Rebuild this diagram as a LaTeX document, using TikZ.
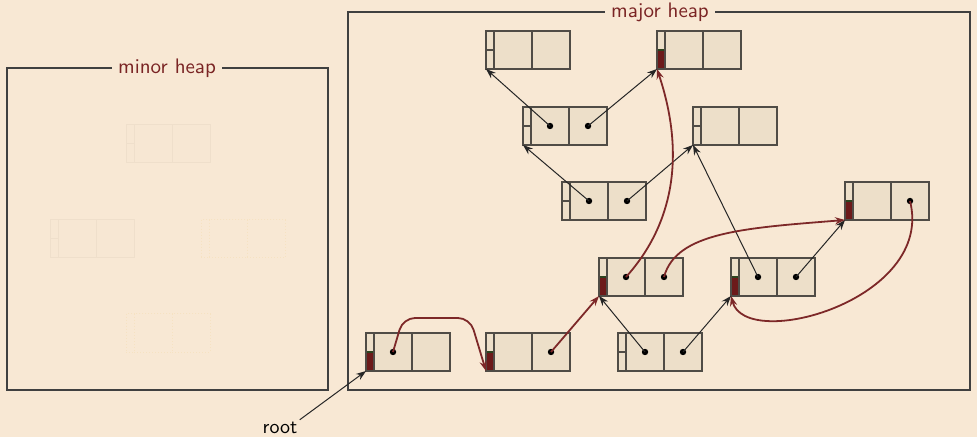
\documentclass[tikz,border=0pt]{standalone}
\usetikzlibrary{positioning,arrows.meta}
\definecolor{bg}{RGB}{248,232,212}
\definecolor{blkfill}{RGB}{237,223,201}
\definecolor{blkline}{RGB}{80,76,70}
\definecolor{markred}{RGB}{108,26,26}
\definecolor{markedge}{RGB}{46,66,30}
\definecolor{livered}{RGB}{125,40,40}
\definecolor{heapred}{RGB}{122,36,36}
\definecolor{ghostline}{RGB}{239,223,203}
\definecolor{ghostfill}{RGB}{247,231,211}
\definecolor{ghostyel}{RGB}{246,226,194}
\tikzset{
  hdr/.style={draw=blkline, fill=blkfill, line width=0.6pt, anchor=north west,
    minimum width=4pt, minimum height=19pt, inner sep=0pt, outer sep=0pt},
  fld/.style={draw=blkline, fill=blkfill, line width=0.6pt,
    minimum width=19pt, minimum height=19pt, inner sep=0pt, outer sep=0pt},
  free/.style={path picture={\draw[blkline, line width=0.6pt]
    (path picture bounding box.west) -- (path picture bounding box.east);}},
  marked/.style={path picture={\filldraw[draw=markedge, fill=markred, line width=0.9pt]
    (path picture bounding box.south west) rectangle (path picture bounding box.east);}},
  ghost/.style={draw=ghostline, fill=ghostfill, line width=0.5pt},
  ghostdot/.style={draw=ghostyel, fill=bg, line width=0.5pt, densely dotted},
  ptr/.style={-{Stealth[length=5pt,width=3.6pt]}, line width=0.5pt, draw=black!85},
  live/.style={ptr, draw=livered, line width=0.9pt},
  heap/.style={draw=black!75, line width=0.6pt},
  heaplbl/.style={fill=bg, text=heapred, inner sep=3pt, font=\sffamily\fontsize{10.5}{12}\selectfont},
}
\begin{document}
\begin{tikzpicture}[x=0.5pt, y=-0.5pt]
  \fill[bg] (0,0) rectangle (977,437);
  \useasboundingbox (0,0) rectangle (977,437);
  % heaps
  \draw[heap] (7,68) rectangle (328,390);
  \node[heaplbl] (minor) at (167,68) {minor heap};
  \draw[heap] (348,12) rectangle (970,390);
  \node[heaplbl] (major) at (660,12) {major heap};
  % faint blocks in the minor heap
  \foreach \n/\x/\y/\s in {g1/126/125/ghost, g2/50/220/ghost, g3/201/220/ghostdot, g4/126/314/ghostdot}{
    \node[hdr, \s] (\n-h) at (\x,\y) {};
    \node[fld, \s, right=0pt of \n-h] (\n-a) {};
    \node[fld, \s, right=0pt of \n-a] (\n-b) {};
  }
  \draw[ghostline, line width=0.5pt] (g1-h.west) -- (g1-h.east) (g2-h.west) -- (g2-h.east);
  % blocks in the major heap
  \foreach \n/\x/\y/\s in {b1/366/333/marked, b2/486/333/marked, b3/618/333/free,
                           b5/599/258/marked, b6/731/258/marked, b7/845/182/marked,
                           b8/562/182/free, b9/523/107/free, b10/693/107/free,
                           b11/486/31/free, b12/657/31/marked}{
    \node[hdr, \s] (\n-h) at (\x,\y) {};
    \node[fld, right=0pt of \n-h] (\n-a) {};
    \node[fld, right=0pt of \n-a] (\n-b) {};
  }
  \foreach \f in {b1-a, b2-b, b3-a, b3-b, b5-a, b5-b, b6-a, b6-b, b7-b, b8-a, b8-b, b9-a, b9-b}
    \fill (\f.center) circle[radius=1.6pt];
  % plain pointers
  \foreach \a/\b in {b3-a/b5-h, b3-b/b6-h, b6-a/b10-h, b6-b/b7-h,
                     b8-a/b9-h, b8-b/b10-h, b9-a/b11-h, b9-b/b12-h}
    \draw[ptr] (\a.center) -- (\b.south west);
  % marking pointers
  \draw[live, rounded corners=6pt] (b1-a.center) -- ++(10,-34) -- ++(67,0) -- (b2-h.south west);
  \draw[live] (b2-b.center) -- (b5-h.south west);
  \draw[live] (b5-a.center) .. controls +(45,-50) and +(30,90) .. (b12-h.south west);
  \draw[live] (b5-b.center) .. controls +(12,-45) and +(-100,8) .. (b7-h.south west);
  \draw[live] (b7-b.center) .. controls +(25,99) and +(15,56) .. (b6-h.south west);
  % root
  \node[font=\sffamily, inner sep=1pt] (root) at (280,428) {root};
  \draw[ptr] (root.north east) -- (b1-h.south west);
\end{tikzpicture}
\end{document}
